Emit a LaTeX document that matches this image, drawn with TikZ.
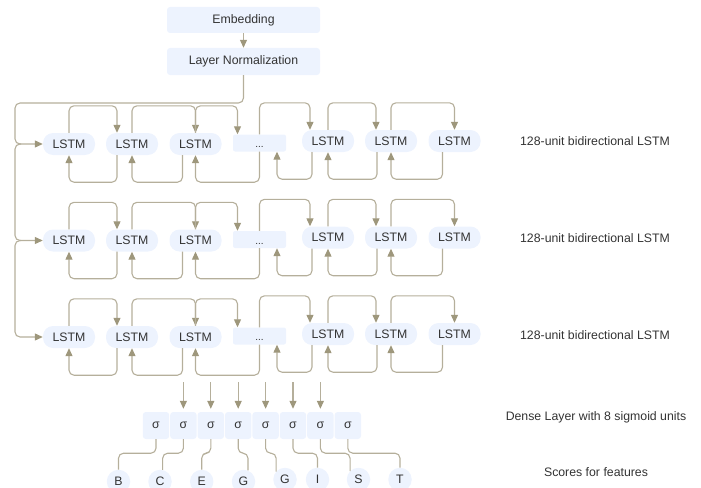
\documentclass[tikz,border=0pt]{standalone}
\usepackage{fontspec}
\setmainfont{Liberation Sans}
\usetikzlibrary{arrows.meta,calc}
\definecolor{fillc}{HTML}{EDF3FE}
\definecolor{linec}{HTML}{B5AF9B}
\definecolor{arrc}{HTML}{9E977C}
\definecolor{txtc}{HTML}{333333}
\begin{document}
\begin{tikzpicture}[x=1pt,y=-1pt,
  every node/.style={font=\fontsize{12.3}{14}\selectfont, text=txtc},
  box/.style={fill=fillc, rounded corners=3pt, inner sep=0pt},
  lstm/.style={box, rounded corners=10pt, minimum width=52pt, minimum height=22pt},
  dotbox/.style={box, rounded corners=2pt, minimum width=53pt, minimum height=17pt, font=\fontsize{10}{12}\selectfont, text height=9pt, text depth=0pt},
  sig/.style={box, minimum width=26.4pt, minimum height=27pt},
  score/.style={circle, fill=fillc, minimum size=23.5pt, inner sep=0pt},
  conn/.style={draw=linec, line width=1.1pt, rounded corners=5pt},
  arr/.style={conn, -{Triangle[length=8pt,width=7pt,color=arrc]}}
]
\useasboundingbox (0,0) rectangle (701,487);

% top boxes
\node[box, minimum width=153pt, minimum height=26pt] (E) at (243.5,20) {Embedding};
\node[box, minimum width=153pt, minimum height=27pt] (LN) at (243.5,61.5) {Layer Normalization};
\draw[arr] (E) -- (LN);

% LSTM rows
\foreach \r/\y in {1/144,2/240.5,3/337}{
  \node[lstm] (L\r1) at (69,\y) {LSTM};
  \node[lstm] (L\r2) at (132,\y) {LSTM};
  \node[lstm] (L\r3) at (195.5,\y) {LSTM};
  \node[dotbox] (L\r4) at (259.5,\y-1) {...};
  \node[lstm] (L\r5) at (328,\y-3) {LSTM};
  \node[lstm] (L\r6) at (391,\y-3) {LSTM};
  \node[lstm] (L\r7) at (454.5,\y-3) {LSTM};
  % forward
  \draw[arr] (L\r1.north) -- ++(0,-27) -| ([xshift=-15pt]L\r2.north);
  \draw[arr] (L\r2.north) -- ++(0,-27) -| (L\r3.north);
  \draw[arr] (L\r3.north) -- ++(0,-27) -| ([xshift=-22pt]L\r4.north);
  \draw[arr] (L\r4.north) -- ++(0,-31.5) -| ([xshift=-18pt]L\r5.north);
  \draw[arr] (L\r5.north) -- ++(0,-27) -| ([xshift=-15pt]L\r6.north);
  \draw[arr] (L\r6.north) -- ++(0,-27) -| (L\r7.north);
  % backward
  \draw[arr] ([xshift=-15pt]L\r2.south) -- ++(0,27) -| (L\r1.south);
  \draw[arr] ([xshift=-13pt]L\r3.south) -- ++(0,27) -| (L\r2.south);
  \draw[arr] (L\r4.south) -- ++(0,30.5) -| (L\r3.south);
  \draw[arr] ([xshift=-16pt]L\r5.south) -- ++(0,27) -| ([xshift=17.5pt]L\r4.south);
  \draw[arr] ([xshift=-14pt]L\r6.south) -- ++(0,27) -| (L\r5.south);
  \draw[arr] ([xshift=-12pt]L\r7.south) -- ++(0,27) -| (L\r6.south);
}

% left bus
\draw[arr] (LN.south) |- (15,103) |- (L11.west);
\coordinate (j1) at (21,144);
\coordinate (j2) at (21,240.5);
\draw[arr] (j1) -- (15,144) |- (L21.west);
\draw[arr] (j2) -- (15,240.5) |- (L31.west);

% dense layer
\foreach \i in {1,...,8}
  \node[sig] (s\i) at ({156+27.4*(\i-1)},425.5) {σ};
\foreach \i in {2,...,7}{
  \coordinate (d\i) at (s\i.north |- 0,382);
  \draw[arr, shorten >=3pt] (d\i) -- (s\i.north);
}

% scores
\foreach \i/\x/\yy/\t in {1/118.5/481.5/B,2/160/481.5/C,3/201.7/481.5/E,4/243.5/481.5/G,5/285/479.5/G,6/317.5/479.5/I,7/358.5/479.5/S,8/400/479.5/T}
  \node[score] (c\i) at (\x,\yy) {\t};
\draw[conn] (s1.south) -- ++(0,14) -| (c1.north);
\draw[conn] (s2.south) -- ++(0,14) -| (c2.77);
\draw[conn] (s3.south) -- ++(0,14) -| (c3.north);
\draw[conn] (s4.south) -- ++(0,14) -| (c4.68);
\draw[conn] (s5.south) -- ++(0,14) -| (c5.138);
\draw[conn] (s6.south) -- ++(0,14) -| (c6.north);
\draw[conn] (s7.south) -- ++(0,14) -| (c7.135);
\draw[conn] (s8.south) -- ++(0,14) -| (c8.north);

% labels
\node (t1) at (595,141) {128-unit bidirectional LSTM};
\node (t2) at (595,238) {128-unit bidirectional LSTM};
\node (t3) at (595,335) {128-unit bidirectional LSTM};
\node (t4) at (596,417) {Dense Layer with 8 sigmoid units};
\node (t5) at (596,472) {Scores for features};
\end{tikzpicture}
\end{document}
